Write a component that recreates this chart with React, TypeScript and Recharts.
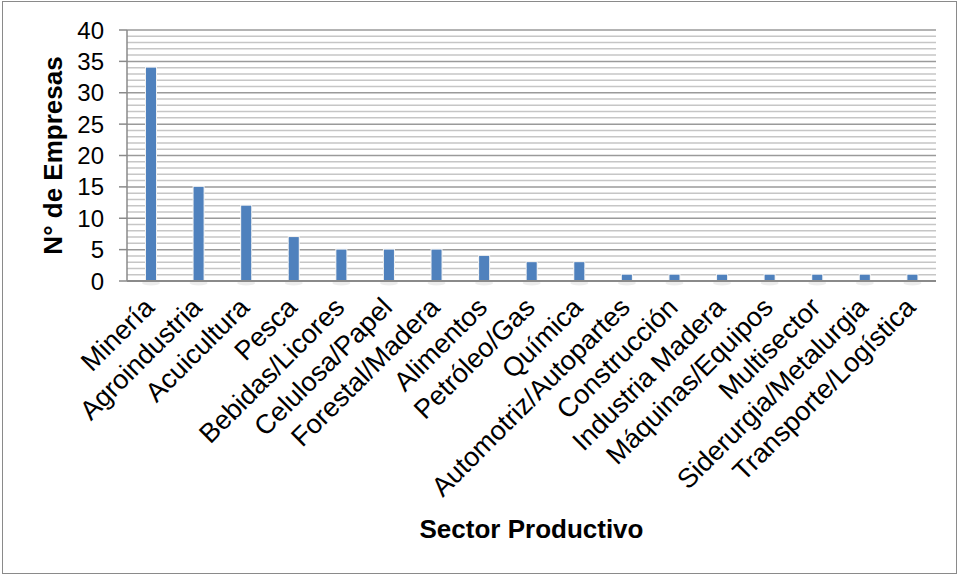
import React from 'react';
import { BarChart, Bar, XAxis, YAxis, CartesianGrid } from 'recharts';

const sectors = [
  'Minería', 'Agroindustria', 'Acuicultura', 'Pesca', 'Bebidas/Licores', 'Celulosa/Papel',
  'Forestal/Madera', 'Alimentos', 'Petróleo/Gas', 'Química', 'Automotriz/Autopartes',
  'Construcción', 'Industria Madera', 'Máquinas/Equipos', 'Multisector',
  'Siderurgia/Metalurgia', 'Transporte/Logística',
];
const empresas = [34, 15, 12, 7, 5, 5, 5, 4, 3, 3, 1, 1, 1, 1, 1, 1, 1];
const yTicks = [0, 5, 10, 15, 20, 25, 30, 35, 40];
const minorTicks = [1, 2, 3, 4, 6, 7, 8, 9, 11, 12, 13, 14, 16, 17, 18, 19, 21, 22, 23, 24, 26, 27, 28, 29, 31, 32, 33, 34, 36, 37, 38, 39];

const data = sectors.map((s, i) => ({ sector: s, value: empresas[i] }));

const FONT = '"Liberation Sans", Arial, sans-serif';

const XTick = (props: any) => {
  const { x, y, payload } = props;
  const ax = x + 5;
  const ay = y + 20;
  return (
    <text x={ax} y={ay} transform={`rotate(-45, ${ax}, ${ay})`} textAnchor="end"
      fontSize={27} fontFamily={FONT} fill="#000">{payload.value}</text>
  );
};

const BarShape = (props: any) => {
  const { x, y, width, height } = props;
  if (!height || height <= 0) return null;
  return (
    <g>
      <ellipse cx={x + width / 2} cy={y + height + 2} rx={width * 0.9} ry={2.5} fill="#000" opacity={0.07} />
      <rect x={x - 1} y={y - 1} width={width + 2} height={height + 1} fill="#f2f2f2" />
      <rect x={x} y={y} width={width} height={height} fill="#4F81BD" />
    </g>
  );
};

const YTitle = (props: any) => {
  const vb = props.viewBox;
  const cx = vb.x + 62;
  const cy = vb.y + vb.height / 2;
  return (
    <text x={cx} y={cy} transform={`rotate(-90, ${cx}, ${cy})`} textAnchor="middle"
      fontSize={26} fontWeight="bold" fontFamily={FONT} fill="#000">N° de Empresas</text>
  );
};

const XTitle = (props: any) => {
  const vb = props.viewBox;
  return (
    <text x={vb.x + vb.width / 2} y={vb.y + 257} textAnchor="middle"
      fontSize={26} fontWeight="bold" fontFamily={FONT} fill="#000">Sector Productivo</text>
  );
};

export default function App() {
  return (
    <div style={{ position: 'absolute', left: 0, top: 0, width: 962, height: 577, background: '#fff' }}>
      <div style={{ position: 'absolute', left: 2, top: 1, width: 955, height: 573, border: '1.5px solid #8a8a8a', boxSizing: 'border-box' }} />
      <div style={{ position: 'absolute', left: 0, top: 0 }}>
        <BarChart width={962} height={577} data={data} margin={{ top: 30, right: 26, left: 0, bottom: 0 }} barCategoryGap={0}>
          <CartesianGrid vertical={false} stroke="#c6c6c6" strokeWidth={1.5} horizontalValues={minorTicks} />
          <CartesianGrid vertical={false} stroke="#9a9a9a" strokeWidth={1.5} />
          <XAxis dataKey="sector" interval={0} height={296} tickLine={false} axisLine={{ stroke: '#8a8a8a', strokeWidth: 2 }}
            tick={<XTick />} label={XTitle} />
          <YAxis width={127} domain={[0, 40]} ticks={yTicks} interval={0} tickSize={8} tickMargin={15}
            axisLine={{ stroke: '#8a8a8a', strokeWidth: 1.5 }} tickLine={{ stroke: '#8a8a8a', strokeWidth: 1.5 }}
            tick={{ fontSize: 24, fontFamily: FONT, fill: '#000' }} label={YTitle} />
          <Bar dataKey="value" barSize={10} shape={<BarShape />} isAnimationActive={false} />
        </BarChart>
      </div>
    </div>
  );
}
